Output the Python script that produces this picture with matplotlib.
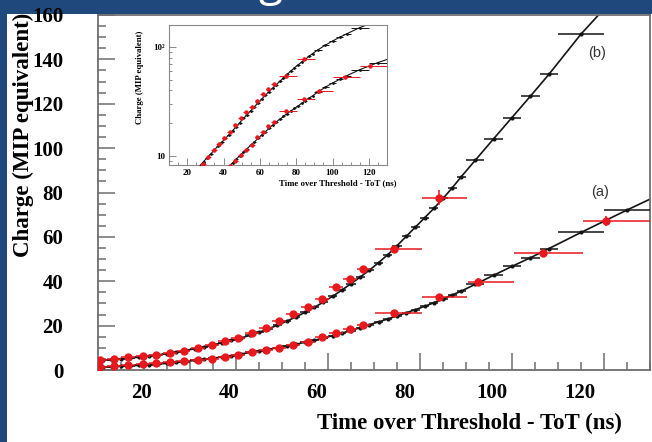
import numpy as np
import matplotlib
matplotlib.use("Agg")
import matplotlib.pyplot as plt
from matplotlib.patches import Rectangle
from matplotlib.ticker import MultipleLocator, LogLocator, NullFormatter, FixedLocator, FixedFormatter
import matplotlib.transforms as mtransforms

# ---------------- data ----------------
# black points (fine bins), shared x for curves (a) and (b)
blk_x = [11, 13, 15, 17, 19, 21, 23, 25, 27, 29, 31, 33, 35, 37, 39, 41, 43, 45, 47, 49,
         51, 53, 55, 57, 59, 61, 63, 65, 67, 69, 71, 73, 75, 77, 79, 81, 83, 85, 87, 89,
         92, 96, 100, 104, 108, 115, 125]
blk_xerr = [1, 1, 1, 1, 1, 1, 1, 1, 1, 1, 1, 1, 1, 1, 1, 1, 1, 1, 1, 1,
            1, 1, 1, 1, 1, 1, 1, 1, 1, 1, 1, 1, 1, 1, 1, 1, 1, 1, 1, 1,
            2, 2, 2, 2, 2, 5, 5]
blk_a_y = [1.4, 1.5, 1.7, 1.9, 2.1, 2.4, 2.7, 3.0, 3.4, 3.8, 4.3, 4.8, 5.3, 5.9, 6.5, 7.2, 7.9, 8.6, 9.3, 10.0,
           10.8, 11.6, 12.5, 13.4, 14.4, 15.5, 16.6, 17.8, 19.1, 20.4, 21.7, 23.0, 24.4, 25.8, 27.2, 28.7, 30.3, 32.0, 33.8, 35.6,
           38.6, 42.7, 46.7, 50.6, 54.7, 62.0, 72.1]
blk_b_y = [4.4, 4.7, 5.0, 5.4, 5.8, 6.3, 6.8, 7.4, 8.1, 8.8, 9.6, 10.4, 11.3, 12.3, 13.3, 14.4, 15.6, 17.0, 18.5, 20.2,
           22.0, 23.9, 26.0, 28.2, 30.6, 33.2, 36.0, 38.9, 41.9, 45.0, 48.4, 52.0, 56.0, 60.2, 64.4, 68.6, 72.8, 77.3, 82.1, 87.2,
           94.5, 104.2, 113.8, 123.4, 133.2, 151.4]
# fitted-line end points
line_a_ends_x = [10, 130]
line_a_ends_y = [1.35, 77.0]
line_b_ends_x = [10, 118.8]
line_b_ends_y = [4.2, 160.0]

# red points (measurement), bin edges and values
red_x = [10.4, 13.4, 16.6, 19.7, 22.6, 25.6, 28.6, 31.7, 34.7, 37.6, 40.5, 43.5, 46.5, 49.4, 52.4,
         55.6, 58.7, 61.7, 64.7, 67.7, 74.3, 84.2, 92.7, 106.7, 120.5]
red_lo = [8.9, 11.9, 15.1, 18.2, 21.1, 24.1, 27.1, 30.2, 33.2, 36.1, 39.0, 42.0, 45.0, 47.9, 50.9,
          54.1, 57.2, 60.2, 63.2, 66.2, 70.3, 80.4, 90.4, 100.4, 115.4]
red_hi = [11.9, 14.9, 18.1, 21.2, 24.1, 27.1, 30.1, 33.2, 36.2, 39.1, 42.0, 45.0, 48.0, 50.9, 53.9,
          57.1, 60.2, 63.2, 66.2, 69.2, 80.4, 90.2, 100.4, 115.4, 130.0]
red_a_y = [1.5, 1.8, 2.25, 2.7, 3.0, 3.45, 4.05, 4.5, 5.1, 6.0, 6.9, 8.1, 9.0, 10.1, 11.3,
           12.5, 14.7, 16.5, 18.6, 20.3, 25.6, 33.0, 39.8, 52.9, 67.3]
red_a_yerr = [0.3, 0.3, 0.3, 0.3, 0.3, 0.3, 0.3, 0.3, 0.3, 0.3, 0.3, 0.3, 0.3, 0.3, 0.3,
              0.4, 0.4, 0.4, 0.5, 0.5, 0.8, 1.2, 1.5, 1.8, 2.2]
red_b_y = [4.5, 4.95, 5.7, 6.3, 6.9, 7.6, 8.4, 9.7, 11.3, 12.9, 14.6, 16.5, 19.0, 22.1, 25.2,
           28.2, 32.0, 37.2, 41.0, 45.5, 54.5, 77.6]
red_b_yerr = [0.3, 0.3, 0.3, 0.3, 0.3, 0.3, 0.3, 0.4, 0.4, 0.5, 0.5, 0.6, 0.6, 0.7, 0.8,
              0.9, 1.0, 1.1, 1.2, 1.3, 1.5, 3.4]

x_ticks = [20, 40, 60, 80, 100, 120]
x_ticklabels = ["20", "40", "60", "80", "100", "120"]
y_ticks = [0, 20, 40, 60, 80, 100, 120, 140, 160]

NAVY = "#1f497d"
RED = "#e8191e"
BLK = "#141414"
FRAME = "#6e6e6e"

serif_b = dict(family="Liberation Serif", weight="bold")

fig = plt.figure(figsize=(6.52, 4.42), dpi=100)
fig.patch.set_facecolor(NAVY)
fig.patches.append(Rectangle((7 / 652, 0), 1 - 7 / 652, (442 - 14) / 442,
                             transform=fig.transFigure, facecolor="white",
                             edgecolor="none", zorder=-5))
# cut-off slide title (only the descender of the "g" shows at the top edge)
fig.text(270 / 652, 1 + 5 / 442, "g", color="white", fontsize=32,
         family="Open Sans", ha="center", va="baseline", zorder=-4)


def draw(ax, ms_red, ms_blk, lw, lw_err):
    rx = np.array(red_x)
    xerr = [rx - np.array(red_lo), np.array(red_hi) - rx]
    nb = len(red_b_y)
    ax.plot(np.r_[line_a_ends_x[0], blk_x, line_a_ends_x[1]],
            np.r_[line_a_ends_y[0], blk_a_y, line_a_ends_y[1]],
            color=BLK, lw=lw, zorder=2)
    ax.plot(np.r_[line_b_ends_x[0], blk_x[:len(blk_b_y)], line_b_ends_x[1]],
            np.r_[line_b_ends_y[0], blk_b_y, line_b_ends_y[1]],
            color=BLK, lw=lw, zorder=2)
    ax.errorbar(blk_x, blk_a_y, xerr=blk_xerr, fmt="o", ms=ms_blk, color=BLK,
                elinewidth=lw_err, capsize=0, zorder=3)
    ax.errorbar(blk_x[:len(blk_b_y)], blk_b_y, xerr=blk_xerr[:len(blk_b_y)], fmt="o",
                ms=ms_blk, color=BLK, elinewidth=lw_err, capsize=0, zorder=3)
    ax.errorbar(rx, red_a_y, xerr=xerr, yerr=red_a_yerr, fmt="o", ms=ms_red,
                color=RED, elinewidth=lw_err, capsize=0, zorder=4)
    ax.errorbar(rx[:nb], red_b_y, xerr=[xerr[0][:nb], xerr[1][:nb]], yerr=red_b_yerr,
                fmt="o", ms=ms_red, color=RED, elinewidth=lw_err, capsize=0, zorder=4)


# ---------------- main axes ----------------
ax = fig.add_axes([98 / 652, 1 - 370 / 442, (650 - 98) / 652, (370 - 15) / 442])
ax.set_facecolor("white")
draw(ax, ms_red=5.0, ms_blk=2.0, lw=1.2, lw_err=1.1)
ax.set_xlim(10, 130)
ax.set_ylim(0, 160)
ax.xaxis.set_major_locator(FixedLocator(x_ticks))
ax.xaxis.set_minor_locator(MultipleLocator(5))
ax.yaxis.set_major_locator(FixedLocator(y_ticks))
ax.yaxis.set_minor_locator(MultipleLocator(5))
ax.set_xticklabels([])
ax.set_yticklabels([str(v) for v in y_ticks])
for s in ax.spines.values():
    s.set_color(FRAME)
    s.set_linewidth(1.3)
ax.tick_params(which="both", direction="in", color=FRAME, width=1.1, top=False, right=False)
ax.tick_params(which="major", length=12)
ax.tick_params(which="minor", length=5.8)
ax.tick_params(axis="y", which="major", pad=25, labelsize=15)
for lab in ax.get_yticklabels():
    lab.set_fontfamily("Liberation Serif")
    lab.set_fontweight("bold")
# x tick labels (overlaid on the slide, slightly compressed spacing)
trans = mtransforms.blended_transform_factory(ax.transData, ax.transAxes)
for v, t in zip(x_ticks, x_ticklabels):
    ax.text(19.35 + (v - 20) * 0.9545, -0.066, t, transform=trans, ha="center",
            va="center", fontsize=15, clip_on=False, **serif_b)

ax.text(118.4, 142.8, "(b)", fontsize=10.5, family="Liberation Sans", color="#333333",
        ha="center", va="center")
ax.text(119.1, 80.3, "(a)", fontsize=10.5, family="Liberation Sans", color="#333333",
        ha="center", va="center")

fig.text(622 / 652, 1 - 423 / 442, "Time over Threshold - ToT (ns)", ha="right",
         va="center", fontsize=16.5, **serif_b)
fig.text(23 / 652, 1 - 135 / 442, "Charge (MIP equivalent)", rotation=90,
         ha="center", va="center", fontsize=16.5, **serif_b)

# ---------------- inset (log scale) ----------------
axi = fig.add_axes([169 / 652, 1 - 165 / 442, (387 - 169) / 652, (165 - 25) / 442])
axi.set_facecolor("white")
axi.set_yscale("log")
draw(axi, ms_red=2.2, ms_blk=1.0, lw=0.8, lw_err=0.7)
axi.set_xlim(10, 130)
axi.set_ylim(8.2, 160)
axi.xaxis.set_major_locator(FixedLocator(x_ticks))
axi.xaxis.set_minor_locator(MultipleLocator(5))
axi.set_xticklabels(x_ticklabels)
axi.yaxis.set_major_locator(FixedLocator([10, 100]))
axi.yaxis.set_major_formatter(FixedFormatter(["10", "10²"]))
axi.yaxis.set_minor_locator(LogLocator(base=10, subs=np.arange(2, 10)))
axi.yaxis.set_minor_formatter(NullFormatter())
for s in axi.spines.values():
    s.set_color("#8a8a8a")
    s.set_linewidth(0.8)
axi.tick_params(which="both", direction="in", color="#8a8a8a", width=0.7,
                top=False, right=False, labelsize=6.5, pad=3)
axi.tick_params(which="major", length=5)
axi.tick_params(which="minor", length=2.5)
for lab in axi.get_xticklabels() + axi.get_yticklabels():
    lab.set_fontfamily("Liberation Serif")
    lab.set_fontweight("bold")
axi.text(1.045, -0.13, "Time over Threshold - ToT (ns)", transform=axi.transAxes,
         ha="right", va="center", fontsize=6.3, clip_on=False, **serif_b)
axi.text(-0.131, 0.625, "Charge (MIP equivalent)", transform=axi.transAxes,
         rotation=90, ha="center", va="center", fontsize=6.3, clip_on=False, **serif_b)

fig.savefig("out.png", dpi=100, facecolor=fig.get_facecolor())
